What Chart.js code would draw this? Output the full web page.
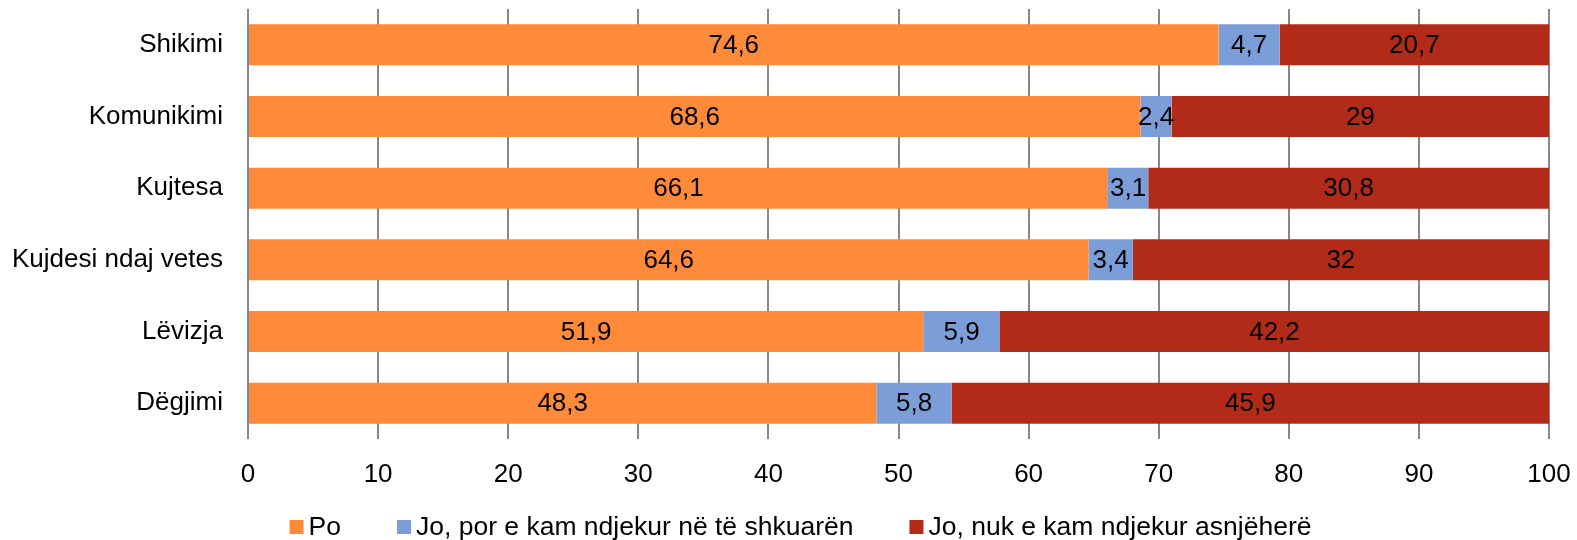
<!DOCTYPE html>
<html>
<head>
<meta charset="utf-8">
<script src="https://cdn.jsdelivr.net/npm/chart.js@4"></script>
<style>
  html, body { margin: 0; padding: 0; background: #fff; }
  #wrap { width: 1577px; height: 540px; }
</style>
</head>
<body>
<div id="wrap"><canvas id="chart"></canvas></div>
<script>
'use strict';

const categories = ['Shikimi', 'Komunikimi', 'Kujtesa', 'Kujdesi ndaj vetes', 'Lëvizja', 'Dëgjimi'];
const seriesNames = ['Po', 'Jo, por e kam ndjekur në të shkuarën', 'Jo, nuk e kam ndjekur asnjëherë'];
const po = [74.6, 68.6, 66.1, 64.6, 51.9, 48.3];
const joPor = [4.7, 2.4, 3.1, 3.4, 5.9, 5.8];
const joNuk = [20.7, 29, 30.8, 32, 42.2, 45.9];
const xTicks = [0, 10, 20, 30, 40, 50, 60, 70, 80, 90, 100];

const colors = ['#FF8A3A', '#7B9ED9', '#B22B18'];
const FONT = 'Arial, "Liberation Sans", sans-serif';
const FONT_SIZE = 26;

// simple inline value labels, centred in each segment
const barLabels = {
  id: 'barLabels',
  afterDatasetsDraw(chart) {
    const ctx = chart.ctx;
    ctx.save();
    ctx.font = FONT_SIZE + 'px ' + FONT;
    ctx.fillStyle = '#000';
    ctx.textAlign = 'center';
    ctx.textBaseline = 'middle';
    chart.data.datasets.forEach(function (ds, i) {
      const meta = chart.getDatasetMeta(i);
      meta.data.forEach(function (bar, j) {
        const x = (bar.x + bar.base) / 2;
        ctx.fillText(String(ds.data[j]).replace('.', ','), x, bar.y + 1);
      });
    });
    ctx.restore();
  }
};

// legend drawn by hand: small square, short gap, text (Excel style spacing)
const bottomLegend = {
  id: 'bottomLegend',
  afterDraw(chart) {
    const ctx = chart.ctx;
    const box = 14, gap = 5, itemGap = 56, y = 527;
    ctx.save();
    ctx.font = '26.5px ' + FONT;
    ctx.textBaseline = 'middle';
    ctx.textAlign = 'left';
    const widths = chart.data.datasets.map(function (ds) {
      return box + gap + ctx.measureText(ds.label).width;
    });
    const total = widths.reduce(function (a, b) { return a + b; }, 0) + itemGap * (widths.length - 1);
    let x = (chart.width - total) / 2 + 12;
    chart.data.datasets.forEach(function (ds, i) {
      ctx.fillStyle = ds.backgroundColor;
      ctx.fillRect(x, y - box / 2, box, box);
      ctx.fillStyle = '#000';
      ctx.fillText(ds.label, x + box + gap, y + 1);
      x += widths[i] + itemGap;
    });
    ctx.restore();
  }
};

const seriesData = [po, joPor, joNuk];

new Chart(document.getElementById('chart'), {
  type: 'bar',
  data: {
    labels: categories,
    datasets: seriesNames.map(function (name, i) {
      return {
        label: name,
        data: seriesData[i],
        backgroundColor: colors[i],
        borderWidth: 0,
        categoryPercentage: 1,
        barPercentage: 0.572,
      };
    }),
  },
  options: {
    indexAxis: 'y',
    responsive: true,
    maintainAspectRatio: false,
    animation: false,
    layout: { padding: { top: 9, right: 28, left: 0, bottom: 51 } },
    scales: {
      x: {
        stacked: true,
        min: 0,
        max: 100,
        afterBuildTicks: function (axis) {
          axis.ticks = xTicks.map(function (v) { return { value: v }; });
        },
        grid: { color: '#878787', lineWidth: 2, drawTicks: false },
        border: { display: false },
        ticks: {
          color: '#000',
          font: { size: FONT_SIZE, family: FONT },
          padding: 20,
          maxRotation: 0,
        },
        afterFit: function (axis) {
          axis.height = 50;
          axis.paddingLeft = 0;
          axis.paddingRight = 0;
        },
      },
      y: {
        stacked: true,
        grid: { display: false, drawTicks: false },
        border: { display: false },
        ticks: {
          color: '#000',
          font: { size: FONT_SIZE, family: FONT },
          padding: 25,
        },
        afterFit: function (axis) {
          axis.width = 248;
          axis.paddingTop = 0;
          axis.paddingBottom = 0;
        },
      },
    },
    plugins: {
      legend: { display: false },
      tooltip: { enabled: false },
    },
  },
  plugins: [barLabels, bottomLegend],
});
</script>
</body>
</html>
